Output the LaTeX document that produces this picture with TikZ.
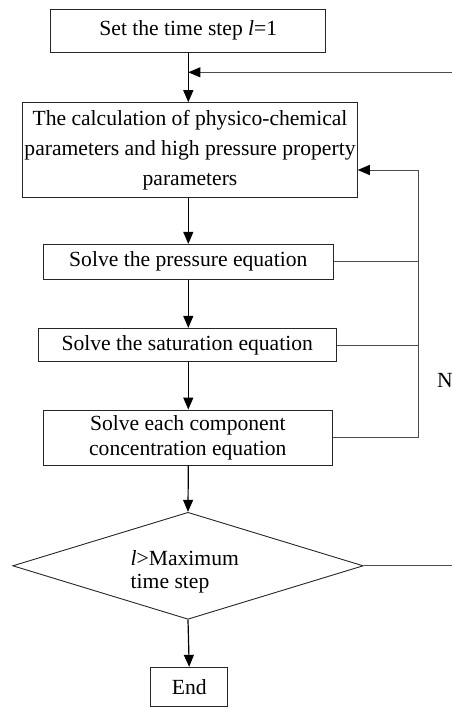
\documentclass[tikz,border=0pt]{standalone}
\usepackage{fontspec}
\setmainfont{Liberation Serif}
\usetikzlibrary{arrows.meta,shapes.geometric}
\tikzset{
  box/.style={draw=black!85, line width=0.9pt, inner sep=0pt, align=center, font=\fontsize{21.6}{30}\selectfont},
  arr/.style={line width=1.2pt, -{Triangle[width=10pt,length=12pt]}},
  fb/.style={draw=black!70, line width=0.9pt},
  fbarr/.style={fb, -{Triangle[width=10pt,length=12pt,fill=black,color=black]}}
}
\begin{document}
\begin{tikzpicture}[x=1pt,y=-1pt]
\useasboundingbox (0,0) rectangle (452,707);
\node[box, minimum width=275pt, minimum height=43pt] (b1) at (188.3,30.5) {Set the time step \textit{l}=1};
\node[box, minimum width=334.6pt, minimum height=94.7pt] (b2) at (190,150) {The calculation of physico-chemical\\parameters and high pressure property\\parameters};
\node[box, minimum width=290pt, minimum height=34.7pt] (b3) at (188.3,261.7) {Solve the pressure equation};
\node[box, minimum width=297.7pt, minimum height=33.4pt] (b4) at (187.2,345) {Solve the saturation equation};
\node[box, minimum width=289pt, minimum height=55pt, font=\fontsize{21.6}{25}\selectfont] (b5) at (187.8,437.5) {Solve each component\\concentration equation};
\node[draw=black!85, line width=0.9pt, diamond, inner sep=0pt, minimum width=350.6pt, minimum height=107pt] (d) at (188,565.8) {};
\node[anchor=west, align=left, inner sep=0pt, font=\fontsize{21.6}{22.7}\selectfont] (dt) at (130.5,572) {\textit{l}>Maximum\\time step};
\node[box, minimum width=77pt, minimum height=39.4pt] (e) at (189.2,687) {End};
\node[font=\fontsize{21.6}{22}\selectfont, anchor=west, inner sep=0pt] (n) at (437,380) {N};
\coordinate (j) at (188.3,72.3);
\coordinate (rin) at (452,72.3);
\coordinate (rout) at (452,565.8);
\coordinate (c1) at (418.3,437.3);
\coordinate (c2) at (418.3,170);
\draw[arr] (b1.south -| j) -- (b2.north -| j);
\draw[fbarr] (rin) -- (j);
\draw[fb] (d.east) -- (rout);
\draw[arr] (b2.south -| j) -- (b3.north -| j);
\draw[arr] (b3.south -| j) -- (b4.north -| j);
\draw[arr] (b4.south -| j) -- (b5.north -| j);
\draw[arr] (b5.south -| j) -- (d.north);
\draw[arr] (d.south) -- (e.north);
\draw[fbarr] (b5.east |- c1) -- (c1) -- (c2) -- (b2.east |- c2);
\draw[fb] (b3.east) -- (b3.east -| c1);
\draw[fb] (b4.east) -- (b4.east -| c1);
\end{tikzpicture}
\end{document}
